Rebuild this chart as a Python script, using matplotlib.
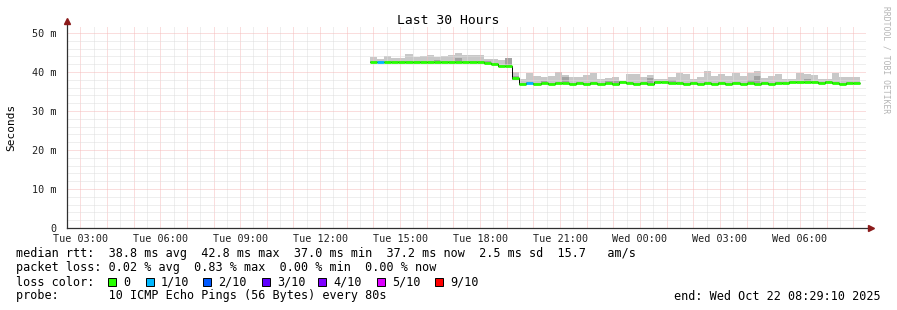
import matplotlib
matplotlib.use("Agg")
import numpy as np
import pandas as pd
import matplotlib.pyplot as plt
import matplotlib.dates as mdates
from matplotlib.patches import Rectangle
from matplotlib.ticker import MultipleLocator, FuncFormatter

plt.rcParams["font.family"] = ["DejaVu Sans Mono", "DejaVu Sans"]

# --- data (ms), one value per 16 min step ---
rtt_median = [42.6, 42.5, 42.6, 42.6, 42.5, 42.6, 42.6, 42.5, 42.6, 42.5, 42.6, 42.6, 42.6, 42.5, 42.6, 42.6,
              42.4, 42.0, 41.6, 41.5,
              38.4,
              37.0, 37.1, 37.0, 37.1, 37.0, 37.1, 37.1, 37.0, 37.1, 37.0, 37.1, 37.0, 37.1, 37.0, 37.4, 37.1,
              37.0, 37.1, 37.0, 37.4, 37.4, 37.1,
              37.1, 37.0, 37.1, 37.0, 37.1, 37.0, 37.1, 37.0, 37.1, 37.0, 37.1, 37.0, 37.1, 37.0, 37.1, 37.1,
              37.4, 37.4, 37.4, 37.4, 37.1, 37.4, 37.1, 37.0, 37.1, 37.2]
rtt_min = [42.4, 42.3, 42.4, 42.4, 42.3, 42.4, 42.4, 42.3, 42.4, 42.3, 42.4, 42.4, 42.4, 42.3, 42.4, 42.4,
           42.2, 41.8, 41.4, 41.3,
           38.0,
           36.8, 36.9, 36.8, 36.9, 36.8, 36.9, 36.9, 36.8, 36.9, 36.8, 36.9, 36.8, 36.9, 36.8, 37.1, 36.9,
           36.8, 36.9, 36.8, 37.1, 37.1, 36.9,
           36.9, 36.8, 36.9, 36.8, 36.9, 36.8, 36.9, 36.8, 36.9, 36.8, 36.9, 36.8, 36.9, 36.8, 36.9, 36.9,
           37.1, 37.1, 37.1, 37.1, 36.9, 37.1, 36.9, 36.8, 36.9, 37.0]
rtt_dark = [42.9, 42.8, 42.9, 42.9, 42.8, 42.9, 42.9, 42.8, 42.9, 43.2, 42.9, 42.9, 43.6, 42.8, 42.9, 42.9,
            42.7, 42.3, 41.9, 43.5,
            38.9,
            37.3, 37.4, 37.3, 37.7, 37.3, 37.4, 38.6, 37.3, 37.4, 37.3, 37.4, 37.3, 37.8, 37.6, 37.7, 37.4,
            37.3, 37.4, 38.4, 37.7, 37.7, 38.0,
            37.4, 37.3, 37.4, 37.3, 37.4, 37.3, 37.4, 37.3, 37.4, 37.3, 38.0, 39.0, 37.4, 37.3, 37.4, 37.4,
            37.7, 37.7, 38.2, 37.7, 37.4, 37.7, 37.4, 37.3, 37.4, 37.5]
rtt_max = [43.9, 43.4, 44.2, 43.7, 43.7, 44.6, 43.9, 44.2, 44.3, 43.9, 44.2, 44.3, 45.0, 44.3, 44.3, 44.3,
           43.4, 43.4, 43.0, 43.7,
           39.9,
           38.3, 39.8, 39.0, 38.8, 39.0, 39.9, 39.2, 38.6, 38.8, 39.2, 39.8, 38.3, 38.5, 38.8, 37.8, 39.5,
           39.5, 38.6, 39.2, 38.3, 38.3, 38.6,
           39.8, 39.5, 38.3, 38.8, 40.3, 39.1, 39.5, 39.1, 39.8, 39.1, 39.8, 40.3, 38.5, 39.1, 39.5, 38.3,
           38.3, 39.8, 39.5, 39.2, 38.3, 38.3, 39.8, 38.6, 38.8, 38.8]
lost_pings = [0, 1, 0, 0, 0, 0, 0, 0, 0, 0, 0, 0, 0, 0, 0, 0,
              0, 0, 0, 0,
              0,
              0, 1, 0, 0, 0, 0, 0, 0, 0, 0, 0, 0, 0, 0, 0, 0,
              0, 0, 0, 0, 0, 0,
              0, 0, 0, 0, 0, 0, 0, 0, 0, 0, 0, 0, 0, 0, 0, 0,
              0, 0, 0, 0, 0, 0, 0, 0, 0, 0]
first_step = "2025-10-21 13:52"
step = "16min"
view_start = "2025-10-21 02:29:10"
view_end = "2025-10-22 08:29:10"

loss_labels = ["0", "1/10", "2/10", "3/10", "4/10", "5/10", "9/10"]
loss_colors = ["#26ff00", "#00b8ff", "#0059ff", "#5e00ff", "#7e00ff", "#dd00ff", "#ff0000"]

W, H = 897, 310
fig = plt.figure(figsize=(W / 100, H / 100), dpi=100)
ax = fig.add_axes([66.5 / W, 82 / H, (866.3 - 66.5) / W, (228 - 26) / H])

edges = mdates.date2num(pd.date_range(first_step, periods=len(rtt_median) + 1, freq=step))

# smoke
ax.stairs(rtt_max, edges, baseline=rtt_min, fill=True, color="#c8c8c8", lw=0, zorder=1)
ax.stairs(rtt_dark, edges, baseline=rtt_min, fill=True, color="#a2a2a2", lw=0, zorder=1.1)
# median
ax.stairs(rtt_median, edges, baseline=None, color="black", lw=0.7, zorder=3)
ax.hlines(rtt_median, edges[:-1], edges[1:], colors=[loss_colors[n] for n in lost_pings],
          lw=2.0, zorder=3.1)

ax.set_xlim(mdates.date2num(pd.Timestamp(view_start)), mdates.date2num(pd.Timestamp(view_end)))
ax.set_ylim(0, 51.8)

ax.xaxis.set_major_locator(mdates.HourLocator(byhour=range(24)))
ax.xaxis.set_minor_locator(mdates.MinuteLocator(byminute=[30]))
ax.xaxis.set_major_formatter(FuncFormatter(
    lambda v, p: mdates.num2date(v).strftime("%a %H:%M") if mdates.num2date(v).hour % 3 == 0 else ""))
ax.yaxis.set_major_locator(MultipleLocator(10))
ax.yaxis.set_minor_locator(MultipleLocator(2))
ax.yaxis.set_major_formatter(FuncFormatter(lambda v, p: f"{int(v)} m" if v else "0"))

ax.set_axisbelow(False)
ax.grid(which="minor", color="#dedede", lw=0.72, ls=(0, (1, 1)))
ax.grid(which="major", color="#f6bcbc", lw=0.72, ls=(0, (1, 1)))
ax.tick_params(which="both", length=0, labelsize=7.3, colors="#202020")
ax.tick_params(axis="y", pad=7)
ax.tick_params(axis="x", pad=4)

for s in ax.spines.values():
    s.set_visible(False)
ax.plot([0, 0], [0, 1.02], transform=ax.transAxes, color="#303030", lw=0.9, clip_on=False, zorder=4)
ax.plot([0, 1.006], [0, 0], transform=ax.transAxes, color="#303030", lw=0.9, clip_on=False, zorder=4)
ax.plot([0], [1.025], marker="^", ms=4, color="#8b1a1a", transform=ax.transAxes, clip_on=False, zorder=5)
ax.plot([1.006], [0], marker=">", ms=4, color="#8b1a1a", transform=ax.transAxes, clip_on=False, zorder=5)


def px(x, y):
    return x / W, 1 - y / H


fig.text(*px(448, 20), "Last 30 Hours", ha="center", va="center", fontsize=9.4)
fig.text(*px(11, 127), "Seconds", ha="center", va="center", rotation=90, fontsize=8)
fig.text(*px(886, 60), "RRDTOOL / TOBI OETIKER", ha="center", va="center", rotation=270,
         fontsize=5.8, color="#b4b4b4")

fs = 8.5
fig.text(*px(16, 254), "median rtt:  38.8 ms avg  42.8 ms max  37.0 ms min  37.2 ms now  2.5 ms sd  15.7   am/s",
         va="center", fontsize=fs)
fig.text(*px(16, 268), "packet loss: 0.02 % avg  0.83 % max  0.00 % min  0.00 % now", va="center", fontsize=fs)
fig.text(*px(16, 282), "loss color:", va="center", fontsize=fs)
fig.text(*px(16, 296), "probe:       10 ICMP Echo Pings (56 Bytes) every 80s", va="center", fontsize=fs)
fig.text(*px(881, 296), "end: Wed Oct 22 08:29:10 2025", ha="right", va="center", fontsize=fs)

box_x = [108, 146, 203, 262, 318, 377, 435]
for bx, lab, col in zip(box_x, loss_labels, loss_colors):
    fig.add_artist(Rectangle(px(bx, 286), 8 / W, 8 / H, transform=fig.transFigure,
                             facecolor=col, edgecolor="black", lw=0.7))
    fig.text(*px(bx + 15, 282), lab, va="center", fontsize=fs)

fig.savefig("out.png", dpi=100)
